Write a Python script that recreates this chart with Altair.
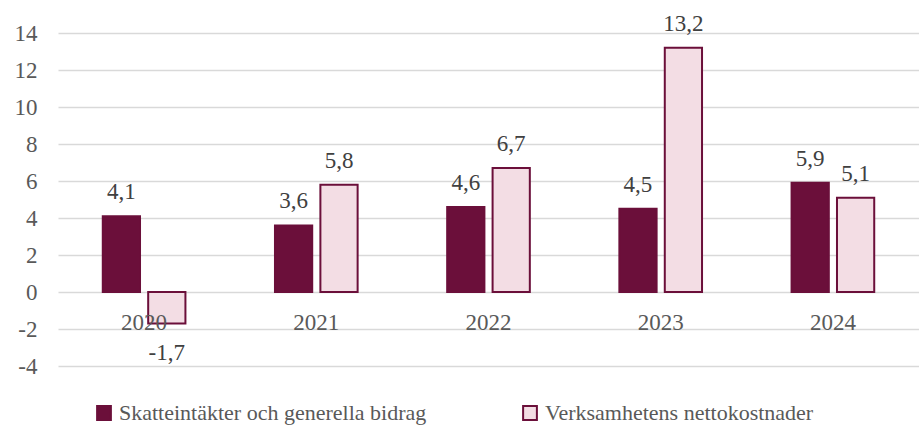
import altair as alt
import pandas as pd

years = ["2020", "2021", "2022", "2023", "2024"]
skatt = [4.1, 3.6, 4.6, 4.5, 5.9]
verk = [-1.7, 5.8, 6.7, 13.2, 5.1]
yticks = [-4, -2, 0, 2, 4, 6, 8, 10, 12, 14]
s1 = "Skatteintäkter och generella bidrag"
s2 = "Verksamhetens nettokostnader"

rows = []
for y, a, b in zip(years, skatt, verk):
    rows.append({"year": y, "serie": s1, "value": a, "label": f"{a:.1f}".replace(".", ",")})
    rows.append({"year": y, "serie": s2, "value": b, "label": f"{b:.1f}".replace(".", ",")})
df = pd.DataFrame(rows)
ydf = pd.DataFrame({"year": years})

DARK = "#6B0F3A"
LIGHT = "#F3DDE4"
FONT = "Liberation Serif"

xenc = alt.X("year:N", sort=years, axis=None,
             scale=alt.Scale(paddingInner=0.52, paddingOuter=0.26))
xoff = alt.XOffset("serie:N", sort=[s1, s2], scale=alt.Scale(paddingInner=0.18))
yscale = alt.Scale(domain=[-4, 14], nice=False, zero=False)
yaxis = alt.Axis(values=yticks, domain=False, ticks=False, labelOverlap=False,
                 labelExpr="'' + datum.value",
                 labelPadding=21, labelFontSize=23, labelFont=FONT,
                 labelColor="#595959", gridColor="#D9D9D9", gridWidth=1.5)

bars = alt.Chart(df).mark_bar(strokeWidth=2).encode(
    x=xenc,
    xOffset=xoff,
    y=alt.Y("value:Q", scale=yscale, title=None, axis=yaxis),
    fill=alt.Fill("serie:N", sort=[s1, s2],
                  scale=alt.Scale(domain=[s1, s2], range=[DARK, LIGHT]),
                  legend=alt.Legend(title=None, orient="none", direction="horizontal",
                                    legendX=35, legendY=369, symbolType="square",
                                    symbolSize=190, symbolStrokeWidth=2,
                                    labelFont=FONT, labelFontSize=22, labelColor="#595959",
                                    columnPadding=92, labelLimit=500, symbolOffset=0)),
    stroke=alt.Stroke("serie:N", sort=[s1, s2],
                      scale=alt.Scale(domain=[s1, s2], range=[DARK, DARK]), legend=None),
)

pos = alt.Chart(df).transform_filter("datum.value >= 0").mark_text(
    dy=-17, baseline="alphabetic", font=FONT, fontSize=23, color="#404040"
).encode(x=xenc, xOffset=xoff, y=alt.Y("value:Q", scale=yscale, title=None, axis=yaxis),
         text="label:N")

neg = alt.Chart(df).transform_filter("datum.value < 0").mark_text(
    dy=37, baseline="alphabetic", font=FONT, fontSize=23, color="#404040"
).encode(x=xenc, xOffset=xoff, y=alt.Y("value:Q", scale=yscale, title=None, axis=yaxis),
         text="label:N")

ylab = alt.Chart(ydf).mark_text(
    dy=38, baseline="alphabetic", font=FONT, fontSize=23, color="#595959"
).encode(x=xenc, y=alt.datum(0, scale=yscale, title=None, axis=yaxis), text="year:N")

chart = alt.layer(bars, pos, neg, ylab).properties(
    width=861, height=333, background="white",
    padding={"left": 58, "top": 33, "right": 0, "bottom": 62},
    autosize=alt.AutoSizeParams(type="none"),
).configure_view(stroke=None).configure_axis(labelFont=FONT)

chart.save("out.html", embed_options={"renderer": "svg", "actions": False})
